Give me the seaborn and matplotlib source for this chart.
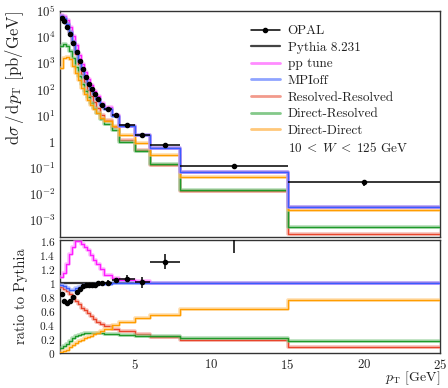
import numpy as np
import matplotlib
matplotlib.use("Agg")
import matplotlib.pyplot as plt
from matplotlib.lines import Line2D
from matplotlib.ticker import MultipleLocator, LogLocator, FuncFormatter, NullFormatter
import seaborn as sns

sns.set_theme(style="white")
plt.rcParams.update({
    "font.family": "serif",
    "font.serif": ["cmr10"],
    "mathtext.fontset": "cm",
    "axes.formatter.use_mathtext": True,
    "axes.unicode_minus": False,
    "text.color": "#222222",
    "axes.labelcolor": "#222222",
    "xtick.color": "#222222",
    "ytick.color": "#222222",
})

# pT binning [GeV]
edges = [0.15, 0.3, 0.5, 0.7, 0.9, 1.1, 1.3, 1.5, 1.7, 1.9, 2.1, 2.3, 2.5,
         2.75, 3.0, 3.5, 4.0, 5.0, 6.0, 8.0, 15.0, 25.0]

# OPAL measurement, dsigma/dpT [pb/GeV]
opal = [56000, 41700, 25100, 13200, 6000, 2630, 1200, 590, 309, 166, 100,
        66, 42.7, 26.3, 18.7, 10.5, 4.2, 1.82, 0.76, 0.12, 0.028]
opal_err = [1700, 1250, 750, 400, 180, 80, 36, 18, 9.3, 5.0, 3.0,
            2.0, 1.3, 0.8, 0.75, 0.42, 0.21, 0.14, 0.06, 0.02, 0.008]

# Pythia 8.231 default prediction [pb/GeV]
pythia = [66000, 55600, 34900, 17800, 7450, 3020, 1310, 614, 318, 171, 102,
          67.5, 42.7, 26.1, 18.5, 10.1, 3.94, 1.80, 0.58, 0.07, 0.0033]

# variations and process components relative to Pythia 8.231
r_pptune = [1.09, 1.14, 1.27, 1.42, 1.52, 1.60, 1.61, 1.57, 1.52, 1.47, 1.41,
            1.34, 1.27, 1.20, 1.12, 1.07, 1.05, 1.03, 1.01, 1.0, 1.0]
r_mpioff = [0.98, 0.96, 0.93, 0.91, 0.91, 0.93, 0.95, 0.96, 0.97, 0.97, 0.98,
            0.98, 0.99, 0.99, 0.99, 1.0, 1.0, 1.0, 1.0, 1.0, 1.0]
r_resres = [0.94, 0.92, 0.89, 0.85, 0.80, 0.75, 0.70, 0.65, 0.61, 0.57, 0.53,
            0.49, 0.45, 0.42, 0.38, 0.35, 0.31, 0.27, 0.23, 0.19, 0.09]
r_dirres = [0.07, 0.10, 0.13, 0.17, 0.21, 0.24, 0.26, 0.27, 0.28, 0.29, 0.29,
            0.29, 0.29, 0.28, 0.27, 0.27, 0.26, 0.25, 0.24, 0.21, 0.165]
r_dirdir = [0.01, 0.03, 0.05, 0.08, 0.11, 0.14, 0.17, 0.19, 0.21, 0.23, 0.25,
            0.27, 0.29, 0.32, 0.35, 0.40, 0.45, 0.50, 0.54, 0.63, 0.76]

labels = ["OPAL", "Pythia 8.231", "pp tune", "MPIoff", "Resolved-Resolved",
          "Direct-Resolved", "Direct-Direct"]

edges_a = np.array(edges)
centers = 0.5 * (edges_a[1:] + edges_a[:-1])
halfw = 0.5 * np.diff(edges_a)
pyth = np.array(pythia)

# (ratio, line colour, band colour, label)
variants = [
    (r_resres, "#e8452c", "#f29a8c", labels[4]),
    (r_dirres, "#1f9a2a", "#84c98a", labels[5]),
    (r_dirdir, "#ff9d00", "#ffc87a", labels[6]),
    (r_pptune, "#ff1cff", "#ff8cff", labels[2]),
    (r_mpioff, "#3a5cff", "#8fa4ff", labels[3]),
]

fig = plt.figure(figsize=(4.48, 3.88), dpi=100)
ax1 = fig.add_axes([0.135, 0.3880, 0.848, 0.5836])
ax2 = fig.add_axes([0.135, 0.0902, 0.848, 0.2912])


def step(ax, values, color, band, z):
    sns.histplot(x=centers, weights=values, bins=edges, element="step",
                 fill=False, color=band, linewidth=2.6, alpha=0.6, ax=ax,
                 zorder=z)
    sns.histplot(x=centers, weights=values, bins=edges, element="step",
                 fill=False, color=color, linewidth=1.0, ax=ax, zorder=z + 0.1)


ax1.set_yscale("log")
# Pythia reference
sns.histplot(x=centers, weights=pyth, bins=edges, element="step", fill=False,
             color="#333333", linewidth=1.6, ax=ax1, zorder=2)
sns.histplot(x=centers, weights=np.ones_like(pyth), bins=edges, element="step",
             fill=False, color="#333333", linewidth=1.6, ax=ax2, zorder=2)

for i, (ratio, col, band, _) in enumerate(variants):
    r = np.array(ratio)
    step(ax1, pyth * r, col, band, 3 + i)
    step(ax2, r, col, band, 3 + i)

op = np.array(opal)
ope = np.array(opal_err)
ax1.errorbar(centers, op, yerr=ope, xerr=halfw, fmt="o", color="black",
             ms=3, lw=1.1, capsize=0, zorder=20)
ax2.errorbar(centers, op / pyth, yerr=ope / pyth, xerr=halfw, fmt="o",
             color="black", ms=3, lw=1.1, capsize=0, zorder=20)

# axes styling
for ax in (ax1, ax2):
    ax.set_xlim(0.15, 25)
    ax.xaxis.set_major_locator(MultipleLocator(5))
    ax.xaxis.set_minor_locator(MultipleLocator(1))
    ax.xaxis.set_major_formatter(FuncFormatter(lambda v, p: r"$%g$" % v))
    ax.tick_params(which="both", direction="in", top=False, right=False,
                   labelsize=9.3, width=0.9, colors="#222222")
    ax.tick_params(axis="x", which="major", length=9)
    ax.tick_params(axis="x", which="minor", length=3.6)
    ax.tick_params(axis="y", which="major", length=7)
    ax.tick_params(axis="y", which="minor", length=3.6)
    for s in ax.spines.values():
        s.set_color("#333333")
        s.set_linewidth(1.0)
    ax.set_ylabel("")
    ax.set_xlabel("")

ax1.set_ylim(2.2e-4, 1e5)
ax1.yaxis.set_major_locator(LogLocator(base=10, numticks=20))
ax1.yaxis.set_minor_locator(LogLocator(base=10, subs=np.arange(2, 10), numticks=20))
ax1.yaxis.set_minor_formatter(NullFormatter())
ax1.yaxis.set_major_formatter(FuncFormatter(
    lambda v, p: "$1$" if abs(np.log10(v)) < 1e-9 else r"$10^{%d}$" % round(np.log10(v))))
ax1.tick_params(axis="x", labelbottom=False)

ax2.set_ylim(0, 1.62)
ax2.yaxis.set_major_locator(MultipleLocator(0.2))
ax2.yaxis.set_minor_locator(MultipleLocator(0.05))
ax2.yaxis.set_major_formatter(FuncFormatter(lambda v, p: r"$%g$" % round(v, 2)))
ax2.tick_params(axis="y", labelsize=8.2)

ax1.set_ylabel(r"$\mathrm{d}\sigma\,/\,\mathrm{d}p_\mathrm{T}$ [pb/GeV]",
               fontsize=12, loc="top")
ax1.yaxis.set_label_coords(-0.091, 1.0)
ax2.set_ylabel("ratio to Pythia", fontsize=10.5)
ax2.yaxis.set_label_coords(-0.086, 0.5)
ax2.set_xlabel(r"$p_\mathrm{T}$ [GeV]", fontsize=10, loc="right")
ax2.xaxis.set_label_coords(1.0, -0.145)

handles = [
    Line2D([], [], color="black", marker="o", ms=3, lw=1.1),
    Line2D([], [], color="#444444", lw=1.6),
]
for name in labels[2:]:
    for ratio, col, band, lab in variants:
        if lab == name:
            handles.append(Line2D([], [], color=band, lw=2.0))
handles.append(Line2D([], [], color="none"))
leg_labels = labels + [r"$10\;<\;W\;<\;125$ GeV"]
ax1.legend(handles, leg_labels, loc="upper left",
           bbox_to_anchor=(250.7 / 448, 1 - 25 / 388),
           bbox_transform=fig.transFigure, frameon=False, fontsize=9.5,
           borderpad=0, borderaxespad=0, handlelength=2.2,
           handletextpad=0.6, labelspacing=0.33)

fig.savefig("out.png", dpi=100)
